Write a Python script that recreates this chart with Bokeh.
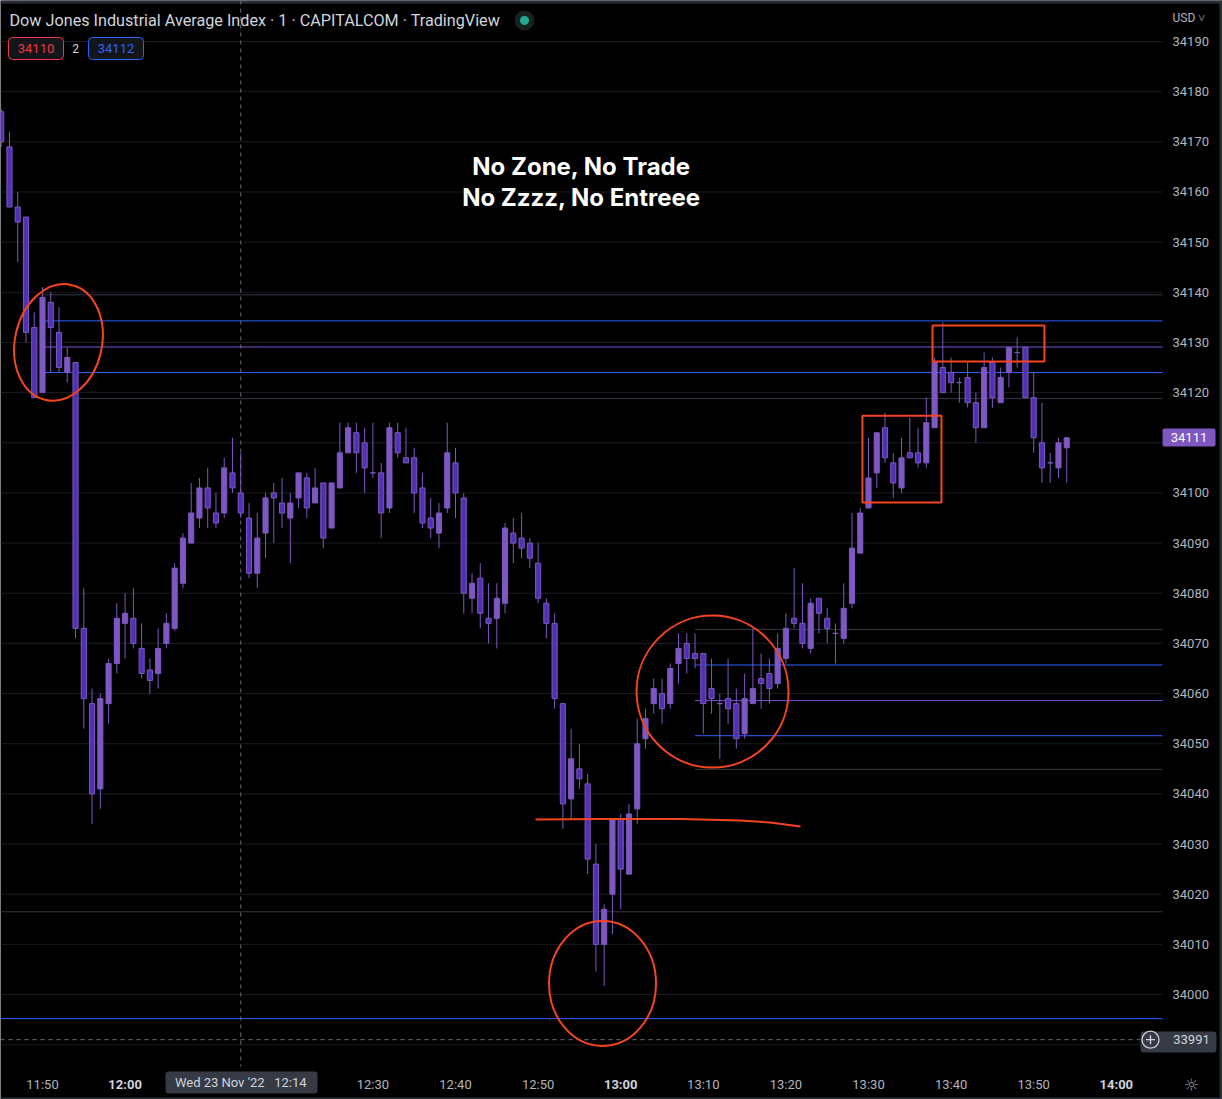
import pandas as pd
from bokeh.plotting import figure
from bokeh.models import (ColumnDataSource, FixedTicker, Label, Range1d, BoxAnnotation)
from bokeh.embed import file_html
from bokeh.resources import INLINE

DAY = "2022-11-23 "
# ---------------- data (1-minute bars, 11:45 .. 13:54) ----------------
times = pd.date_range(DAY + "11:45", periods=130, freq="1min")
opens = [34176, 34169, 34157, 34155, 34133, 34120, 34138, 34132, 34124, 34126,
         34073, 34058, 34041, 34058, 34066, 34074, 34075, 34069, 34064.7, 34064,
         34070, 34073, 34082, 34090, 34095, 34101, 34096, 34096, 34104, 34100,
         34095, 34084, 34092, 34100, 34098, 34095, 34099, 34103, 34098, 34102,
         34093, 34101, 34108, 34112, 34110, 34104, 34104, 34097, 34112, 34107,
         34107, 34101, 34095, 34092, 34097, 34106, 34099, 34079, 34083, 34075,
         34075, 34078, 34092, 34091, 34090, 34086, 34078, 34074, 34058, 34039,
         34045, 34042, 34026, 34010, 34020, 34035, 34024, 34037, 34051, 34058,
         34060, 34058, 34066, 34070, 34068, 34068, 34061, 34058, 34059, 34058,
         34052, 34058, 34063, 34064, 34062, 34067, 34075, 34074, 34069, 34079,
         34075, 34072, 34071, 34078, 34088, 34097, 34104, 34113, 34106, 34101,
         34108, 34108, 34106, 34113, 34125, 34124, 34122, 34123, 34118, 34113,
         34126, 34118, 34124, 34128, 34129, 34119, 34110, 34106, 34105, 34109]
highs = [34176.5, 34172, 34160, 34155, 34136, 34141, 34140, 34137, 34129, 34126,
         34081, 34061, 34060, 34067, 34078, 34080, 34081, 34074, 34067, 34073,
         34076, 34086, 34092, 34102, 34103, 34105, 34100, 34107, 34111, 34108,
         34098, 34096, 34100, 34102, 34103, 34100, 34104, 34104, 34105, 34102,
         34102, 34114, 34114, 34114, 34113, 34114, 34106, 34114, 34114, 34113,
         34109, 34104, 34099, 34098, 34114, 34109, 34100, 34084, 34086, 34082,
         34082, 34094, 34095, 34096, 34091, 34090, 34079, 34076, 34058, 34053,
         34050, 34044, 34030, 34018, 34035, 34036, 34038, 34055, 34057, 34063,
         34063, 34066, 34072, 34072, 34072, 34068, 34067, 34060, 34067, 34061,
         34064, 34073, 34068, 34067, 34072, 34076, 34085, 34082, 34079, 34079,
         34077, 34074, 34082, 34096, 34097, 34111, 34112, 34116, 34108, 34111,
         34115, 34113, 34119, 34127, 34134, 34127, 34123, 34126, 34120, 34128,
         34127, 34125, 34129, 34131, 34129, 34124, 34118, 34108, 34111, 34111]
lows = [34169, 34157, 34146, 34130, 34119, 34120, 34124, 34124, 34122, 34071,
        34053, 34034, 34037, 34054, 34064, 34067, 34069, 34063, 34060, 34061,
        34069, 34072.5, 34081, 34090, 34093, 34093, 34093, 34095, 34100, 34095,
        34083, 34081, 34087, 34090, 34093, 34086, 34097, 34095, 34098, 34089,
        34093, 34101, 34108, 34104, 34100, 34103, 34091, 34096, 34107, 34106,
        34096, 34093, 34091, 34089, 34096, 34095, 34076, 34076, 34073, 34070,
        34069, 34076, 34086, 34087, 34085, 34078, 34071, 34057, 34033, 34035,
        34041, 34024, 34004.6, 34001.7, 34012, 34017, 34024, 34034, 34049, 34056,
        34054, 34057, 34062, 34064, 34065, 34052, 34056, 34047, 34054, 34049,
        34051, 34058, 34057, 34058, 34061, 34066, 34073, 34069, 34068, 34072,
        34070, 34066, 34070, 34077, 34088, 34097, 34101, 34106, 34099, 34100,
        34107, 34105, 34105, 34113, 34120, 34120, 34118, 34117, 34110, 34113,
        34117, 34118, 34121, 34125, 34119, 34108, 34102, 34102, 34103, 34102]
closes = [34170, 34157, 34154, 34132, 34119, 34139, 34133, 34125, 34127, 34073,
          34059, 34040, 34059, 34066, 34075, 34076, 34070, 34064, 34062.6, 34069,
          34074, 34085, 34091, 34096, 34101, 34097, 34094, 34105, 34101, 34096,
          34084, 34091, 34099, 34099, 34096, 34098, 34104, 34097, 34101, 34091,
          34102, 34108, 34113, 34108, 34105, 34104, 34096, 34113, 34108, 34106,
          34100, 34094, 34093, 34096, 34108, 34100, 34080, 34082, 34076, 34074,
          34079, 34093, 34090, 34089, 34087, 34079, 34074, 34059, 34038, 34047,
          34043, 34027, 34010, 34017, 34035, 34025, 34036, 34050, 34055, 34061,
          34057, 34065, 34069, 34067, 34067, 34058, 34059, 34058, 34057, 34051,
          34059, 34061, 34062, 34061, 34069, 34073, 34074, 34070, 34078, 34076,
          34073, 34072, 34077, 34089, 34096, 34103, 34112, 34107, 34102, 34107,
          34107, 34106, 34114, 34126, 34120, 34122, 34122, 34118, 34113, 34125,
          34119, 34123, 34129, 34128, 34119, 34111, 34105, 34106, 34110, 34111]

price_ticks = list(range(33990, 34191, 10))
hidden_price_ticks = [33990, 34110]   # covered by the price labels
time_ticks = ["11:50", "12:00", "12:10", "12:20", "12:30", "12:40", "12:50",
              "13:00", "13:10", "13:20", "13:30", "13:40", "13:50", "14:00"]
time_tick_labels = ["11:50", "", "", "", "12:30", "12:40", "12:50",
                    "", "13:10", "13:20", "13:30", "13:40", "13:50", ""]
bold_time_labels = ["12:00", "13:00", "14:00"]

# horizontal drawings: price, start time, colour
level_prices = [34139.5, 34134.3, 34129.1, 34124.0, 34118.8,
                34072.8, 34065.7, 34058.6, 34051.6, 34044.9,
                34016.5, 33995.2]
level_starts = ["11:50", "11:50", "11:50", "11:50", "11:54",
                "13:09", "13:09", "13:09", "13:09", "13:09",
                "11:40", "11:40"]
level_colors = ["#363a45", "#2962ff", "#7b52d6", "#2962ff", "#363a45",
                "#363a45", "#2962ff", "#7b52d6", "#2962ff", "#363a45",
                "#363a45", "#2962ff"]

# red hand drawings
ellipse_times = ["11:51:56", "12:57:48", "13:11:07"]
ellipse_prices = [34130.0, 34002.2, 34060.4]
ellipse_w = [87, 107, 152]
ellipse_h = [118, 125, 152]
ellipse_angle = [-0.22, 0.0, 0.0]
zone_left = ["13:29:16", "13:37:45"]
zone_right = ["13:38:50", "13:51:18"]
zone_top = [34115.4, 34133.4]
zone_bottom = [34098.1, 34126.2]
curve_times = ["12:49:41", "12:57:33", "13:07:14", "13:14:30", "13:18:06", "13:21:46"]
curve_prices = [34034.9, 34035.0, 34035.0, 34034.7, 34034.3, 34033.5]

last_price = 34111
cross_price = 33991
cross_time = "12:14"

# ---------------- layout helpers (reference pixel -> data) ----------------
def ms(t):
    return pd.Timestamp(DAY + t).value / 1e6

T_REF = ms("11:50")
MIN_MS = 60000.0

def tx(px):
    return T_REF + (px - 42) / 8.26 * MIN_MS

def py(y):
    return 34190 - (y - 41) / 5.016

W, H = 1222, 1099
PANE_R, PANE_B = 1162, 1066

p = figure(width=W, height=H, x_axis_type="datetime", y_axis_location="right",
           x_range=Range1d(tx(0), tx(W)), y_range=Range1d(py(H), py(0)),
           output_backend="svg", toolbar_location=None,
           background_fill_color="#000000", border_fill_color="#000000",
           min_border_left=0, min_border_top=0, min_border_right=0,
           min_border_bottom=0)
p.outline_line_color = None
p.xgrid.visible = False
p.ygrid.visible = False

FONT = "Roboto"
tick_ms = [ms(t) for t in time_ticks]
p.xaxis.ticker = FixedTicker(ticks=tick_ms)
p.xaxis.major_label_overrides = {t: lab for t, lab in zip(tick_ms, time_tick_labels)}
p.xaxis.fixed_location = py(PANE_B)
p.yaxis.ticker = FixedTicker(ticks=price_ticks)
p.yaxis.major_label_overrides = {t: "" for t in hidden_price_ticks}
p.yaxis.fixed_location = tx(PANE_R)
for ax in (p.xaxis[0], p.yaxis[0]):
    ax.axis_line_color = None
    ax.major_tick_line_color = None
    ax.minor_tick_line_color = None
    ax.major_tick_out = 0
    ax.major_tick_in = 0
    ax.major_label_text_color = "#b2b5be"
    ax.major_label_text_font = FONT
    ax.major_label_text_font_size = "13px"
p.xaxis.major_label_standoff = 10
p.yaxis.major_label_standoff = 10

# horizontal grid (pane only)
p.segment(x0=[tx(0)] * len(price_ticks), x1=[tx(PANE_R)] * len(price_ticks),
          y0=price_ticks, y1=price_ticks, line_color="#1b1c21", line_width=1)

# window frame
FRAME = "#2a2e39"
p.quad(left=[tx(0)], right=[tx(W)], top=[py(0)], bottom=[py(3)], fill_color=FRAME, line_color=None)
p.quad(left=[tx(W - 3)], right=[tx(W)], top=[py(0)], bottom=[py(H)], fill_color=FRAME, line_color=None)
p.quad(left=[tx(0)], right=[tx(W)], top=[py(H - 2)], bottom=[py(H)], fill_color=FRAME, line_color=None)

# horizontal levels
p.segment(x0=[ms(s) for s in level_starts], x1=[tx(PANE_R)] * len(level_prices),
          y0=level_prices, y1=level_prices, line_color=level_colors, line_width=1)

# crosshair
CROSS = "#6b6f7a"
p.segment(x0=[ms(cross_time)], x1=[ms(cross_time)], y0=[py(0)], y1=[py(PANE_B)],
          line_color=CROSS, line_dash="4 4", line_width=1)
p.segment(x0=[tx(0)], x1=[tx(1140)], y0=[cross_price], y1=[cross_price],
          line_color=CROSS, line_dash="4 4", line_width=1)

# candles
df = pd.DataFrame(dict(t=times, o=opens, h=highs, l=lows, c=closes))
df["top"] = df[["o", "c"]].max(axis=1)
df["bot"] = df[["o", "c"]].min(axis=1)
up = df[df.c >= df.o]
dn = df[df.c < df.o]
UP = "#7e57c2"
DN_FILL = "#5230b4"
p.segment(x0="t", x1="t", y0="l", y1="h", source=ColumnDataSource(df),
          line_color=UP, line_width=1)
bw = 0.62 * MIN_MS
p.vbar(x="t", width=bw, top="top", bottom="bot", source=ColumnDataSource(up),
       fill_color=UP, line_color=UP, line_width=1)
p.vbar(x="t", width=bw, top="top", bottom="bot", source=ColumnDataSource(dn),
       fill_color=DN_FILL, line_color=UP, line_width=1)

# red drawings
RED = "#f4451e"
p.ellipse(x=[ms(t) for t in ellipse_times], y=ellipse_prices, width=ellipse_w,
          height=ellipse_h, width_units="screen", height_units="screen",
          angle=ellipse_angle, fill_color=None, line_color=RED, line_width=2)
p.quad(left=[ms(t) for t in zone_left], right=[ms(t) for t in zone_right],
       top=zone_top, bottom=zone_bottom, fill_color=None, line_color=RED,
       line_width=2)
p.line(x=[ms(t) for t in curve_times], y=curve_prices, line_color=RED, line_width=2)

def box(l, r, t, b, fill, line=None, radius=0):
    p.add_layout(BoxAnnotation(left=tx(l), right=tx(r), top=py(t), bottom=py(b),
                               fill_color=fill, fill_alpha=1.0,
                               line_color=line, line_alpha=1.0, line_width=1,
                               border_radius=radius))

def label(x, y, text, size="13px", color="#d1d4dc", align="center", bold=False, font=FONT):
    p.add_layout(Label(x=x, y=y, text=text, text_font=font, text_font_size=size,
                       text_color=color, text_align=align, text_baseline="middle",
                       text_font_style="bold" if bold else "normal"))

# header
label(tx(9), py(20), "Dow Jones Industrial Average Index · 1 · CAPITALCOM · TradingView",
      size="16.2px", align="left")
p.scatter(x=[tx(524)], y=[py(20)], size=20, fill_color="#16231f", line_color=None)
p.scatter(x=[tx(524)], y=[py(20)], size=9, fill_color="#22ab94", line_color=None)
box(8, 63, 37, 59, "#141518", "#f23645", 4)
label(tx(35.5), py(48), "34110", color="#f23645")
label(tx(75), py(48), "2", size="12px")
box(88, 143, 37, 59, "#141518", "#2962ff", 4)
label(tx(115.5), py(48), "34112", color="#2962ff")

# big message
label(tx(581), py(166), "No Zone, No Trade", size="24px", color="#ffffff", bold=True, font="Inter")
label(tx(581), py(197), "No Zzzz, No Entreee", size="24px", color="#ffffff", bold=True, font="Inter")

# price scale extras
label(tx(1172), py(17), "USD ˅", size="12px", color="#b2b5be", align="left")
box(1162, 1215, 428, 446, "#7e57c2", None, 2)
label(tx(1188.5), last_price, str(last_price), color="#ffffff")
box(1140, 1216, 1031, 1052, "#363a45", None, 3)
r1 = p.scatter(x=[tx(1150)], y=[cross_price], size=17, fill_color=None,
               line_color="#d1d4dc", line_width=1.3)
r2 = p.scatter(x=[tx(1150)], y=[cross_price], marker="cross", size=9,
               line_color="#d1d4dc", line_width=1.3)
r1.level = "overlay"
r2.level = "overlay"
label(tx(1191), cross_price, str(cross_price))

# time scale extras
for lab in bold_time_labels:
    label(ms(lab), py(1084), lab, bold=True)
box(165, 317, 1071, 1093, "#363a45", None, 3)
label(ms(cross_time), py(1082), "Wed 23 Nov '22\u00a0\u00a0\u00a0" + cross_time)
label(tx(1191), py(1084), "☼", size="17px", color="#9598a1", font="DejaVu Sans")

open("out.html", "w").write(file_html(p, INLINE))
